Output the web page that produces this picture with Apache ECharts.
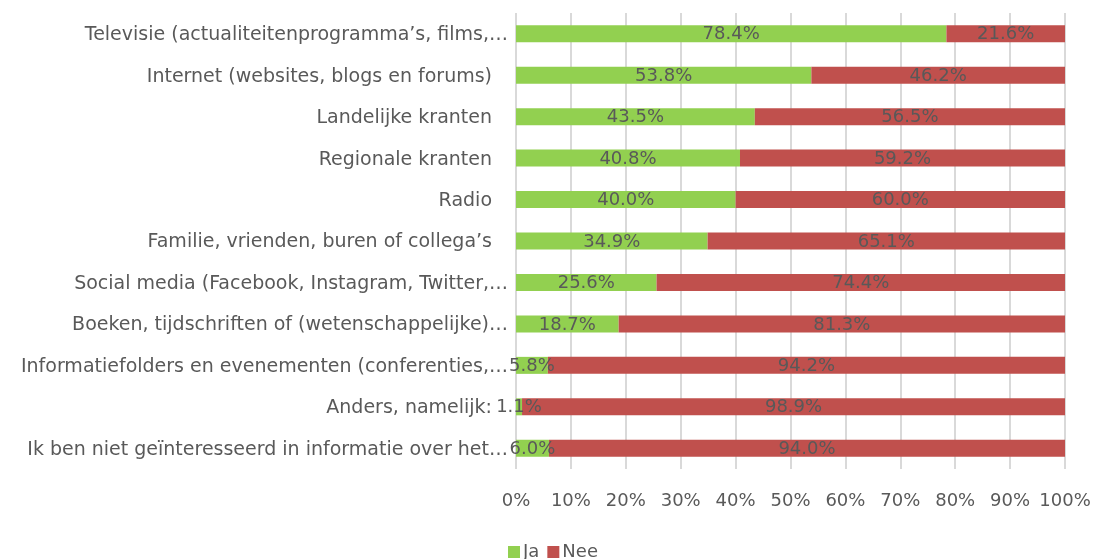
<!DOCTYPE html>
<html>
<head>
<meta charset="utf-8">
<script src="https://cdn.jsdelivr.net/npm/echarts@6/dist/echarts.min.js"></script>
<style>
  html, body { margin: 0; padding: 0; background: #ffffff; }
  #chart { width: 1094px; height: 559px; }
</style>
</head>
<body>
<div id="chart"></div>
<script>
// Information sources, top to bottom
const categories = [
  'Televisie (actualiteitenprogramma’s, films,…',
  'Internet (websites, blogs en forums)',
  'Landelijke kranten',
  'Regionale kranten',
  'Radio',
  'Familie, vrienden, buren of collega’s',
  'Social media (Facebook, Instagram, Twitter,…',
  'Boeken, tijdschriften of (wetenschappelijke)…',
  'Informatiefolders en evenementen (conferenties,…',
  'Anders, namelijk:',
  'Ik ben niet geïnteresseerd in informatie over het…'
];
const jaValues  = [78.4, 53.8, 43.5, 40.8, 40.0, 34.9, 25.6, 18.7, 5.8, 1.1, 6.0];
const neeValues = [21.6, 46.2, 56.5, 59.2, 60.0, 65.1, 74.4, 81.3, 94.2, 98.9, 94.0];
const tickLabels = ['0%', '10%', '20%', '30%', '40%', '50%', '60%', '70%', '80%', '90%', '100%'];

const textColor = '#595959';
const fontFamily = '"DejaVu Sans", "Open Sans", sans-serif';

const chart = echarts.init(document.getElementById('chart'));

const segmentLabel = {
  show: true,
  position: 'inside',
  color: textColor,
  fontFamily: fontFamily,
  fontSize: 18,
  offset: [0, 1],
  formatter: p => p.value.toFixed(1) + '%'
};

// Truncated labels sit closer to the plot than complete ones
const catText = { color: textColor, fontSize: 19, fontFamily: fontFamily };

chart.setOption({
  animation: false,
  textStyle: { fontFamily: fontFamily },
  grid: { left: 516, right: 29, top: 13, bottom: 90, containLabel: false },
  legend: {
    data: ['Ja', 'Nee'],
    bottom: -7,
    left: 503,
    itemWidth: 12,
    itemHeight: 12,
    itemGap: 8,
    icon: 'rect',
    textStyle: { color: textColor, fontSize: 18, fontFamily: fontFamily, padding: [0, 0, 0, -2] }
  },
  xAxis: {
    type: 'value',
    min: 0,
    max: 100,
    interval: 10,
    axisLine: { show: false },
    axisTick: { show: false },
    splitLine: { show: true, lineStyle: { color: '#d9d9d9', width: 2 } },
    axisLabel: {
      margin: 23,
      color: textColor,
      fontSize: 18,
      fontFamily: fontFamily,
      formatter: v => tickLabels[Math.round(v / 10)]
    }
  },
  yAxis: {
    type: 'category',
    data: categories,
    inverse: true,
    axisLine: { show: false },
    axisTick: { show: false },
    axisLabel: {
      margin: 8,
      color: textColor,
      fontSize: 19,
      fontFamily: fontFamily,
      formatter: v => v.endsWith('…') ? '{cut|' + v + '}' : '{full|' + v + '}',
      rich: {
        cut: Object.assign({ padding: [3, 0, 0, 0] }, catText),
        full: Object.assign({ padding: [3, 16, 0, 0] }, catText)
      }
    }
  },
  series: [
    {
      name: 'Ja',
      type: 'bar',
      stack: 'total',
      barWidth: 17,
      itemStyle: { color: '#92d050' },
      label: segmentLabel,
      data: jaValues
    },
    {
      name: 'Nee',
      type: 'bar',
      stack: 'total',
      barWidth: 17,
      itemStyle: { color: '#c0504d' },
      label: segmentLabel,
      data: neeValues
    }
  ]
});
</script>
</body>
</html>
